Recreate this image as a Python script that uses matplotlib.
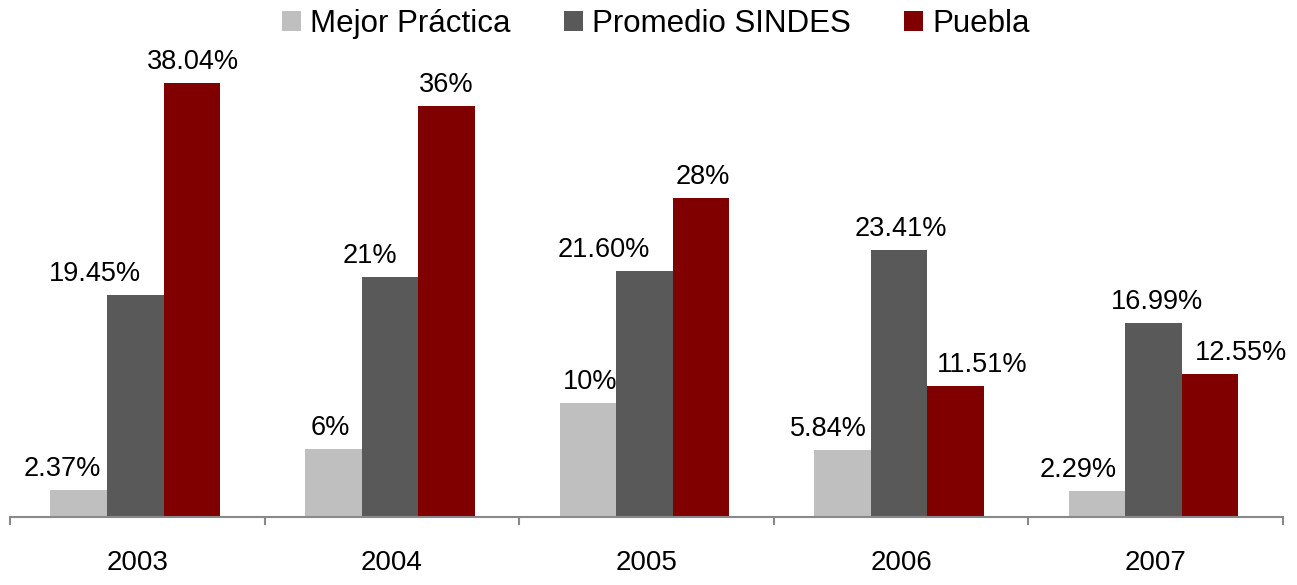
import matplotlib
matplotlib.use('Agg')
import matplotlib.pyplot as plt
import numpy as np

plt.rcParams['font.family'] = ['Liberation Sans', 'DejaVu Sans']

# Datos por año (%)
anios = ['2003', '2004', '2005', '2006', '2007']
series = ['Mejor Práctica', 'Promedio SINDES', 'Puebla']
mejor_practica = [2.37, 6, 10, 5.84, 2.29]
promedio_sindes = [19.45, 21, 21.60, 23.41, 16.99]
puebla = [38.04, 36, 28, 11.51, 12.55]
etiquetas = [
    ['2.37%', '6%', '10%', '5.84%', '2.29%'],
    ['19.45%', '21%', '21.60%', '23.41%', '16.99%'],
    ['38.04%', '36%', '28%', '11.51%', '12.55%'],
]
colores = ['#BFBFBF', '#595959', '#800000']

# desplazamiento horizontal de cada etiqueta (pixeles) para que no se encimen
desp_x = [
    [-16, -3, 2, -14, -19],
    [-40, -20, -41, 2, 3],
    [1, 0, 2, 27, 31],
]

fig = plt.figure(figsize=(12.97, 5.85), dpi=100)
ax = fig.add_axes([10 / 1297, 68 / 585, 1273 / 1297, 502 / 585])

x = np.arange(len(anios))
ancho = 0.222
valores = [mejor_practica, promedio_sindes, puebla]

for j, (serie, vals) in enumerate(zip(series, valores)):
    pos = x + (j - 1) * ancho - 0.008
    ax.bar(pos, vals, width=ancho, color=colores[j], label=serie, linewidth=0)
    for k, v in enumerate(vals):
        ax.annotate(etiquetas[j][k], (pos[k], v), xytext=(desp_x[j][k], 14),
                    textcoords='offset pixels', ha='center', va='baseline',
                    fontsize=19.5, color='black', annotation_clip=False)

ax.set_xlim(-0.5, len(anios) - 0.5)
ax.set_ylim(0, 44)

for lado in ['top', 'right', 'left']:
    ax.spines[lado].set_visible(False)
ax.spines['bottom'].set_color('#898989')
ax.spines['bottom'].set_linewidth(1.5)
ax.set_yticks([])

ax.set_xticks(x)
ax.set_xticklabels(anios, fontsize=20)
ax.tick_params(axis='x', which='major', length=0, pad=24)
ax.set_xticks(np.arange(len(anios) + 1) - 0.5, minor=True)
ax.tick_params(axis='x', which='minor', length=5.6, width=1.5, color='#898989',
               direction='out')

fig.legend(loc='center', bbox_to_anchor=(656 / 1297, 1 - 24 / 585), ncol=3,
           frameon=False, fontsize=22.5, handlelength=0.6, handleheight=0.6,
           handletextpad=0.3, columnspacing=1.7, borderpad=0)

plt.savefig('out.png', dpi=100)
